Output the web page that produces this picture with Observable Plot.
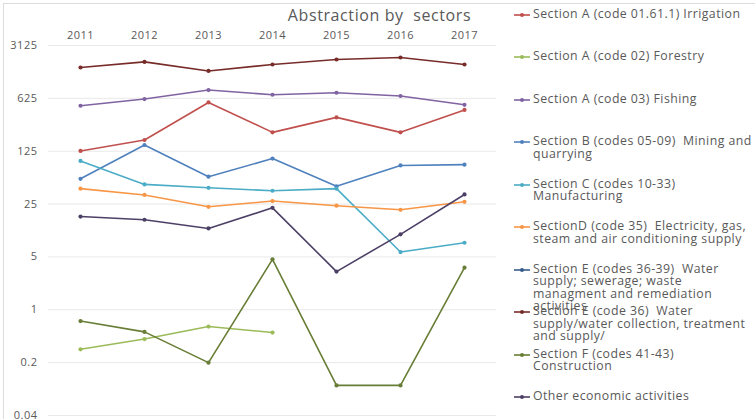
<!DOCTYPE html>
<html><head><meta charset="utf-8">
<script src="https://cdn.jsdelivr.net/npm/d3@7"></script>
<script src="https://cdn.jsdelivr.net/npm/@observablehq/plot@0.6"></script>
<style>
body{margin:0;background:#fff;font-family:"Open Sans",Lato,sans-serif;}
#wrap{position:relative;width:755px;height:419px;overflow:hidden;background:#fff;}
#frame{position:absolute;left:3px;top:3px;width:800px;height:500px;border:1px solid #dcdcdc;pointer-events:none;}
#title{position:absolute;left:0;width:759px;top:7px;height:16px;line-height:16px;text-align:center;font-size:16px;letter-spacing:0.6px;color:#595959;white-space:pre;}
.leg{position:absolute;left:512px;width:243px;font-size:12.3px;letter-spacing:0.45px;line-height:12.5px;color:#595959;}
.leg svg{position:absolute;left:0;top:0;overflow:visible;}
.leg span{display:block;margin-left:21px;white-space:pre;}
#chart{position:absolute;left:0;top:0;}
</style></head>
<body>
<div id="wrap">
  <div id="chart"></div>
  <div id="title">Abstraction by  sectors</div>
  <div id="legend"></div>
  <div id="frame"></div>
</div>
<script>
const years = ["2011","2012","2013","2014","2015","2016","2017"];
const yTicks = [0.04, 0.2, 1, 5, 25, 125, 625, 3125];

const seriesNames = [
  "Section A (code 01.61.1) Irrigation",
  "Section A (code 02) Forestry",
  "Section A (code 03) Fishing",
  "Section B (codes 05-09)  Mining and quarrying",
  "Section C (codes 10-33) Manufacturing",
  "SectionD (code 35)  Electricity, gas, steam and air conditioning supply",
  "Section E (codes 36-39)  Water supply; sewerage; waste managment and remediation activities",
  "Section E (code 36)  Water supply/water collection, treatment and supply/",
  "Section F (codes 41-43) Construction",
  "Other economic activities"
];
const legendLines = [
  "Section A (code 01.61.1) Irrigation",
  "Section A (code 02) Forestry",
  "Section A (code 03) Fishing",
  "Section B (codes 05-09)  Mining and\nquarrying",
  "Section C (codes 10-33)\nManufacturing",
  "SectionD (code 35)  Electricity, gas,\nsteam and air conditioning supply",
  "Section E (codes 36-39)  Water\nsupply; sewerage; waste\nmanagment and remediation\nactivities",
  "Section E (code 36)  Water\nsupply/water collection, treatment\nand supply/",
  "Section F (codes 41-43)\nConstruction",
  "Other economic activities"
];
const colors = ["#C0504D","#9BBB59","#8064A2","#4F81BD","#4BACC6","#F79646","#385D8A","#772C2A","#687D35","#4D4066"];

const irrigation    = [126, 176, 552, 222, 350, 222, 439];
const forestry      = [0.30, 0.41, 0.60, 0.50, null, null, null];
const fishing       = [499, 612, 805, 698, 741, 671, 514];
const mining        = [54, 151, 57.5, 100, 43, 81, 83];
const manufacturing = [93, 45.5, 41, 37.5, 40, 5.8, 7.7];
const electricity   = [40, 33, 23, 27.4, 23.8, 21, 26.8];
const waterE3639    = [null, null, null, null, null, null, null];
const waterE36      = [1600, 1897, 1441, 1753, 2040, 2168, 1753];
const construction  = [0.71, 0.51, 0.2, 4.65, 0.1, 0.1, 3.6];
const other         = [17.1, 15.5, 11.9, 22.3, 3.2, 9.95, 33.5];

const seriesValues = [irrigation, forestry, fishing, mining, manufacturing, electricity, waterE3639, waterE36, construction, other];

const data = [];
seriesNames.forEach((s, i) => {
  years.forEach((yr, j) => {
    const v = seriesValues[i][j];
    if (v != null) data.push({series: s, year: yr, value: v});
  });
});

const chart = Plot.plot({
  width: 755, height: 419,
  marginLeft: 48, marginRight: 259, marginTop: 45, marginBottom: 4,
  style: {fontFamily: "'Open Sans', Lato, sans-serif", fontSize: "11px", letterSpacing: "0.5px", color: "#595959", background: "transparent", overflow: "visible"},
  x: {type: "point", domain: years, padding: 0.5, axis: "top", tickSize: 0, tickPadding: 7, label: null},
  y: {type: "log", base: 5, domain: [0.04, 3125], ticks: yTicks, tickFormat: d => String(d), tickSize: 0, tickPadding: 11, label: null},
  color: {domain: seriesNames, range: colors},
  marks: [
    Plot.ruleY(yTicks, {stroke: "#e9e9e9", strokeWidth: 1}),
    Plot.line(data, {x: "year", y: "value", z: "series", stroke: "series", strokeWidth: 1.6}),
    Plot.dot(data, {x: "year", y: "value", fill: "series", r: 2.1})
  ]
});
document.getElementById("chart").appendChild(chart);

const legend = document.getElementById("legend");
legendLines.forEach((txt, i) => {
  const d = document.createElement("div");
  d.className = "leg";
  d.style.top = (14 + i * 42.5 - 6.5) + "px";
  d.innerHTML = `<svg width="20" height="14"><line x1="2" x2="18" y1="7" y2="7" stroke="${colors[i]}" stroke-width="1.6"/><circle cx="10" cy="7" r="2" fill="${colors[i]}"/></svg><span></span>`;
  d.querySelector("span").textContent = txt;
  legend.appendChild(d);
});
</script>
</body></html>
